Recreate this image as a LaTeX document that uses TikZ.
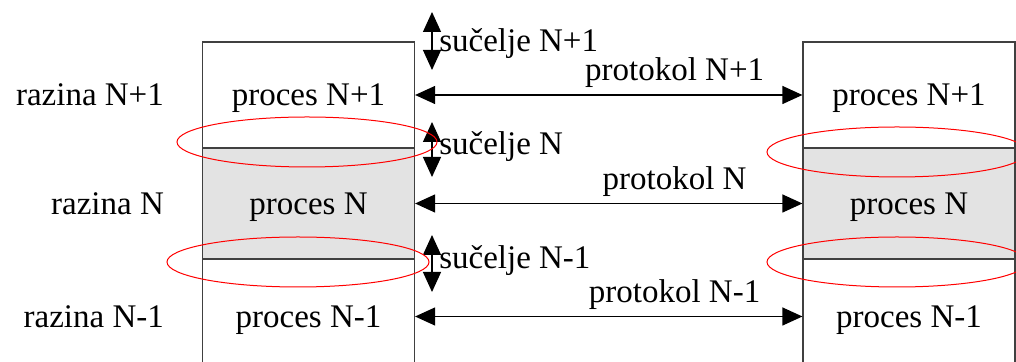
\documentclass[tikz,border=0pt]{standalone}
\usepackage{fontspec}
\setmainfont{Liberation Serif}
\usetikzlibrary{arrows.meta,positioning}

\begin{document}
\begin{tikzpicture}[x=0.5pt,y=-0.5pt,>={Triangle[length=10pt,width=9pt]},
        font=\fontsize{16.5}{19}\selectfont,
        proc/.style={draw=black!75,line width=0.6pt,minimum width=106pt,inner sep=0pt,text depth=0pt},
        veza/.style={<->,line width=0.6pt},
        ring/.style={draw=red,line width=0.5pt}]

  \useasboundingbox (0,0) rectangle (1016,362);
  \clip (0,0) rectangle (1016,362);

  % left stack
  \node[proc,minimum height=53pt] (l2) at (308.5,95) {proces N+1};
  \node[proc,minimum height=55.5pt,fill=black!11] (l1) at (308.5,203.5) {proces N};
  \node[proc,minimum height=57.5pt] (l0) at (308.5,316.5) {proces N-1};

  % right stack
  \node[proc,minimum height=53pt] (r2) at (909,95) {proces N+1};
  \node[proc,minimum height=55.5pt,fill=black!11] (r1) at (909,203.5) {proces N};
  \node[proc,minimum height=57.5pt] (r0) at (909,316.5) {proces N-1};

  % layers
  \node[text depth=0pt] (n2) [left=15.5pt of l2] {razina N+1};
  \node[text depth=0pt] (n1) [left=15.5pt of l1] {razina N};
  \node[text depth=0pt] (n0) [left=15.5pt of l0] {razina N-1};

  % protocols
  \path (l2) edge[veza] node[pos=0.67,above] {protokol N+1} (r2)
        (l1) edge[veza] node[pos=0.67,above] {protokol N} (r1)
        (l0) edge[veza] node[pos=0.67,above] {protokol N-1} (r0);

  % interfaces
  \coordinate (s2a) at (432,12);  \coordinate (s2b) at (432,70);
  \coordinate (s1a) at (432,122); \coordinate (s1b) at (432,177);
  \coordinate (s0a) at (432,235); \coordinate (s0b) at (432,292);
  \path (s2a) edge[veza] node[pos=0.55,right] {sučelje N+1} (s2b)
        (s1a) edge[veza] node[pos=0.45,right] {sučelje N} (s1b)
        (s0a) edge[veza] node[pos=0.45,right] {sučelje N-1} (s0b);

  \draw[ring] (307,142) ellipse [x radius=130, y radius=25];
  \draw[ring] (298,262) ellipse [x radius=131, y radius=25];
  \draw[ring] (897,152) ellipse [x radius=130, y radius=25];
  \draw[ring] (897,262) ellipse [x radius=130, y radius=25];

\end{tikzpicture}
\end{document}
